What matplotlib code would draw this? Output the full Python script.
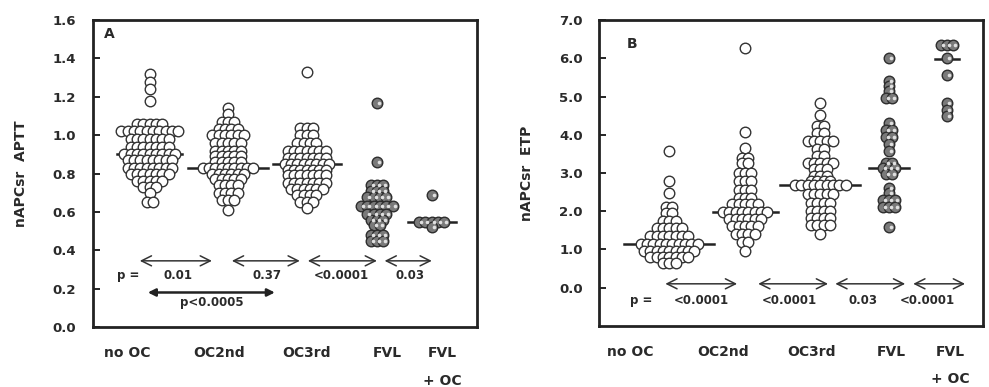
import matplotlib
matplotlib.use("Agg")
import matplotlib.pyplot as plt
import numpy as np

plt.rcParams['font.family'] = ['DejaVu Sans']
plt.rcParams['font.weight'] = 'bold'

# ---- data: (row value, number of dots in that row) per group ----
groups = ['no OC', 'OC2nd', 'OC3rd', 'FVL', 'FVL\n+ OC']

# panel A : nAPCsr APTT
a_nooc_v = [1.32, 1.28, 1.24, 1.18, 1.06, 1.02, 0.98, 0.94, 0.90, 0.87, 0.83, 0.80, 0.76, 0.73, 0.70, 0.65]
a_nooc_n = [1, 1, 1, 1, 5, 10, 7, 7, 9, 8, 8, 7, 5, 3, 1, 2]
a_oc2_v = [1.14, 1.11, 1.07, 1.03, 1.00, 0.96, 0.92, 0.89, 0.86, 0.83, 0.80, 0.77, 0.74, 0.70, 0.66, 0.61]
a_oc2_n = [1, 1, 3, 4, 6, 5, 5, 5, 5, 9, 6, 5, 4, 4, 3, 1]
a_oc3_v = [1.33, 1.04, 1.00, 0.96, 0.92, 0.88, 0.85, 0.82, 0.79, 0.75, 0.72, 0.69, 0.65, 0.62]
a_oc3_n = [1, 3, 3, 4, 7, 7, 8, 7, 7, 7, 6, 4, 3, 1]
a_fvl_v = [1.17, 0.86, 0.74, 0.71, 0.68, 0.63, 0.59, 0.56, 0.53, 0.48, 0.45]
a_fvl_n = [1, 1, 3, 3, 4, 6, 4, 3, 2, 3, 3]
a_fvloc_v = [0.69, 0.55, 0.52]
a_fvloc_n = [1, 5, 1]
a_medians = [0.90, 0.83, 0.85, 0.635, 0.55]

# panel B : nAPCsr ETP
b_nooc_v = [3.58, 2.80, 2.48, 2.10, 1.95, 1.75, 1.55, 1.35, 1.15, 0.95, 0.80, 0.65]
b_nooc_n = [1, 1, 1, 2, 2, 3, 5, 7, 10, 9, 7, 3]
b_oc2_v = [6.26, 4.08, 3.66, 3.40, 3.25, 3.00, 2.78, 2.55, 2.35, 2.18, 1.98, 1.80, 1.60, 1.40, 1.20, 0.95]
b_oc2_n = [1, 1, 1, 2, 2, 3, 3, 3, 3, 5, 8, 6, 5, 4, 2, 1]
b_oc3_v = [4.83, 4.52, 4.22, 4.05, 3.84, 3.64, 3.45, 3.27, 3.10, 2.92, 2.80, 2.68, 2.45, 2.22, 2.00, 1.82, 1.64, 1.40]
b_oc3_n = [1, 1, 2, 2, 5, 2, 2, 5, 3, 3, 4, 9, 5, 4, 4, 4, 4, 1]
b_fvl_v = [6.02, 5.40, 5.28, 5.15, 4.97, 4.30, 4.12, 3.93, 3.76, 3.58, 3.25, 3.12, 2.98, 2.62, 2.48, 2.30, 2.12, 1.58]
b_fvl_n = [1, 1, 1, 1, 2, 1, 2, 2, 1, 1, 2, 3, 2, 1, 1, 3, 3, 1]
b_fvloc_v = [6.36, 6.00, 5.56, 4.82, 4.66, 4.50]
b_fvloc_n = [3, 1, 1, 1, 1, 1]
b_medians = [1.15, 1.98, 2.68, 3.12, 5.97]

# p values
a_p = ['0.01', '0.37', '<0.0001', '0.03']
b_p = ['<0.0001', '<0.0001', '0.03', '<0.0001']

# ---- layout (x axis runs 0..10 in each panel) ----
a_pos = [1.48, 3.52, 5.57, 7.40, 8.83]
a_lab = [0.89, 3.28, 5.57, 7.66, 9.11]
a_half = [0.85, 1.04, 0.89, 0.49, 0.63]
b_pos = [1.82, 3.80, 5.76, 7.55, 9.06]
b_lab = [0.81, 3.23, 5.52, 7.60, 9.14]
b_half = [1.17, 0.85, 1.04, 0.52, 0.30]
dx = 0.165
txt = '#2a2a2a'


def swarm(ax, x0, vals, counts, filled):
    for v, n in zip(vals, counts):
        xs = x0 + (np.arange(n) - (n - 1) / 2) * dx
        if filled:
            ax.plot(xs, [v] * n, 'o', ms=7.6, mfc='#7a7a7a', mec='#2e2e2e', mew=1.0, zorder=3)
            ax.plot(xs + 0.05, [v] * n, 'o', ms=2.6, mfc='#e0e0e0', mec='none', zorder=4)
        else:
            ax.plot(xs, [v] * n, 'o', ms=7.6, mfc='white', mec='#333333', mew=1.0, zorder=3)


def arrow(ax, x1, x2, y, bold=False):
    if bold:
        ax.annotate('', xy=(x2, y), xytext=(x1, y),
                    arrowprops=dict(arrowstyle='<|-|>', lw=1.8, color='#222', mutation_scale=11,
                                    shrinkA=0, shrinkB=0))
    else:
        ax.annotate('', xy=(x2, y), xytext=(x1, y),
                    arrowprops=dict(arrowstyle='<->', lw=1.1, color='#333', mutation_scale=18,
                                    shrinkA=0, shrinkB=0))


def setup(ax, ylim, yticks, ylabel):
    ax.set_xlim(0, 10)
    ax.set_ylim(*ylim)
    ax.set_yticks(yticks)
    ax.set_yticklabels(['%.1f' % t for t in yticks], color=txt, fontsize=9.5, fontweight='bold')
    ax.set_xticks([])
    ax.tick_params(axis='y', direction='in', length=5, width=1.2, pad=12)
    for s in ax.spines.values():
        s.set_linewidth(2.0)
        s.set_color('#222')
    ax.set_ylabel(ylabel, fontsize=10, fontweight='bold', color=txt, labelpad=18)


fig = plt.figure(figsize=(9.89, 3.87), dpi=100)
axA = fig.add_axes([0.094, 0.155, 0.388, 0.793])
axB = fig.add_axes([0.606, 0.158, 0.388, 0.790])

# panel A
setup(axA, (0, 1.6), np.arange(0, 1.61, 0.2), 'nAPCsr  APTT')
a_data = [(a_nooc_v, a_nooc_n), (a_oc2_v, a_oc2_n), (a_oc3_v, a_oc3_n),
          (a_fvl_v, a_fvl_n), (a_fvloc_v, a_fvloc_n)]
for i, (v, n) in enumerate(a_data):
    axA.plot([a_pos[i] - a_half[i], a_pos[i] + a_half[i]], [a_medians[i]] * 2, color='#222', lw=1.8, zorder=2)
    swarm(axA, a_pos[i], v, n, filled=i >= 3)
a_arr = [(1.22, 3.10), (3.62, 5.39), (5.60, 7.40), (7.60, 8.83)]
a_ptx = [2.21, 4.53, 6.46, 8.26]
for (x1, x2), p, xt in zip(a_arr, a_p, a_ptx):
    arrow(axA, x1, x2, 0.345)
    axA.text(xt, 0.27, p, ha='center', va='center', fontsize=8.5, color=txt)
axA.text(0.91, 0.27, 'p =', ha='center', va='center', fontsize=8.5, color=txt)
arrow(axA, 1.43, 4.74, 0.18, bold=True)
axA.text(3.10, 0.13, 'p<0.0005', ha='center', va='center', fontsize=8.5, color=txt)
axA.text(0.42, 1.53, 'A', ha='center', va='center', fontsize=10, color=txt)

# panel B
setup(axB, (-1, 7), np.arange(0, 7.01, 1.0), 'nAPCsr  ETP')
b_data = [(b_nooc_v, b_nooc_n), (b_oc2_v, b_oc2_n), (b_oc3_v, b_oc3_n),
          (b_fvl_v, b_fvl_n), (b_fvloc_v, b_fvloc_n)]
for i, (v, n) in enumerate(b_data):
    axB.plot([b_pos[i] - b_half[i], b_pos[i] + b_half[i]], [b_medians[i]] * 2, color='#222', lw=1.8, zorder=2)
    swarm(axB, b_pos[i], v, n, filled=i >= 3)
b_arr = [(1.72, 3.59), (4.14, 5.96), (6.15, 7.97), (8.18, 9.53)]
b_ptx = [2.66, 4.95, 6.88, 8.55]
for (x1, x2), p, xt in zip(b_arr, b_p, b_ptx):
    arrow(axB, x1, x2, 0.10)
    axB.text(xt, -0.34, p, ha='center', va='center', fontsize=8.5, color=txt)
axB.text(1.09, -0.34, 'p =', ha='center', va='center', fontsize=8.5, color=txt)
axB.text(0.85, 6.37, 'B', ha='center', va='center', fontsize=10, color=txt)

# category labels under each panel
for ax, labx in ((axA, a_lab), (axB, b_lab)):
    for g, xl in zip(groups, labx):
        parts = g.split('\n')
        ax.text(xl, -0.085, parts[0], transform=ax.get_xaxis_transform(), ha='center', va='center',
                fontsize=10, color=txt, clip_on=False)
        if len(parts) > 1:
            ax.text(xl, -0.175, parts[1], transform=ax.get_xaxis_transform(), ha='center', va='center',
                    fontsize=10, color=txt, clip_on=False)

fig.savefig('out.png', dpi=100)
